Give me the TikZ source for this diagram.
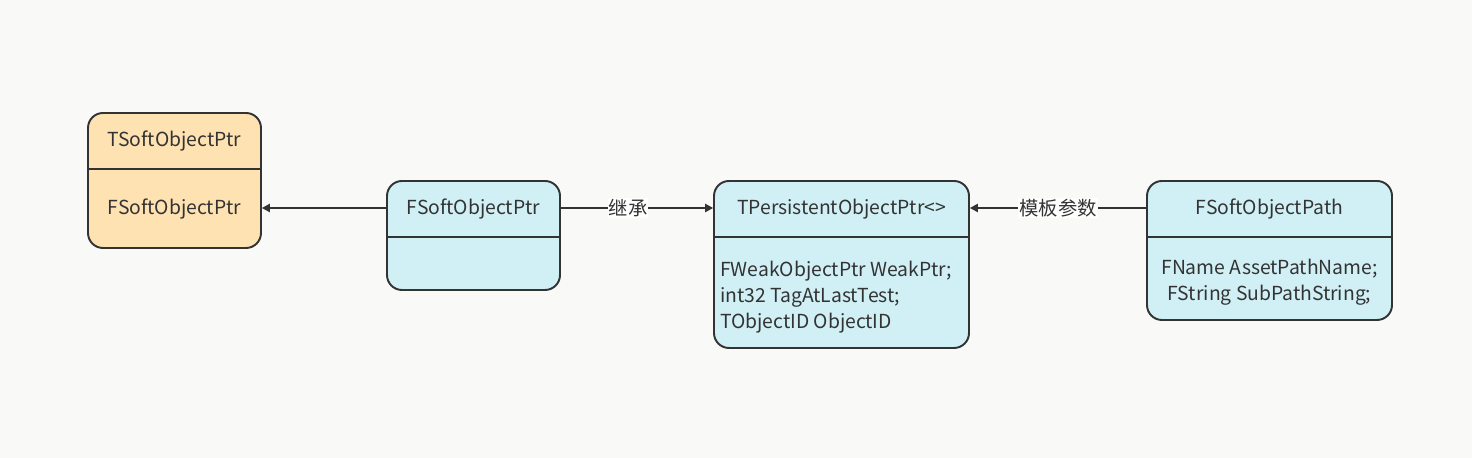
\documentclass[tikz,border=0pt]{standalone}
\usepackage{fontspec}
\setmainfont{Noto Sans CJK SC}
\usepackage{xcolor}
\usetikzlibrary{arrows.meta,positioning,calc}

\definecolor{bgcol}{HTML}{F9F9F8}
\definecolor{bluefill}{HTML}{D0F0F6}
\definecolor{orangefill}{HTML}{FFE2B1}
\definecolor{edgecol}{HTML}{333333}

\tikzset{
    classbox/.style={draw=edgecol, line width=1.1pt, rounded corners=0.3cm, inner sep=0pt},
    classtext/.style={text=edgecol, font=\fontsize{11}{14.7}\selectfont, inner sep=1pt},
    relation/.style={draw=edgecol, line width=0.6pt, -{Triangle[length=0.16cm, width=0.17cm]}},
    rellabel/.style={fill=white, text=edgecol, font=\fontsize{11}{12}\selectfont, inner sep=0.5pt}
}

\begin{document}
\begin{tikzpicture}
    \useasboundingbox[fill=bgcol] (0,0) rectangle (29.44,9.16);

    % TSoftObjectPtr (left)
    \node[classbox, fill=orangefill, minimum width=3.46cm, minimum height=2.70cm] (tsoft) at (3.49,5.55) {};
    \draw[edgecol, line width=1.1pt] (tsoft.west |- 0,5.78) -- (tsoft.east |- 0,5.78);
    \node[classtext] (tsofthead) at (3.49,6.34) {TSoftObjectPtr};
    \node[classtext] (tsoftbody) at (3.49,4.97) {FSoftObjectPtr};

    % FSoftObjectPtr
    \node[classbox, fill=bluefill, minimum width=3.46cm, minimum height=2.18cm] (fsoft) at (9.47,4.45) {};
    \draw[edgecol, line width=1.1pt] (fsoft.west |- 0,4.42) -- (fsoft.east |- 0,4.42);
    \node[classtext] (fsofthead) at (9.47,4.97) {FSoftObjectPtr};

    % TPersistentObjectPtr
    \node[classbox, fill=bluefill, minimum width=5.10cm, minimum height=3.34cm] (tpers) at (16.83,3.87) {};
    \draw[edgecol, line width=1.1pt] (tpers.west |- 0,4.42) -- (tpers.east |- 0,4.42);
    \node[classtext] (tpershead) at (16.83,4.97) {TPersistentObjectPtr<>};
    \node[classtext, anchor=west, align=left] (tpersbody) at (14.36,3.22)
        {FWeakObjectPtr WeakPtr;\\int32 TagAtLastTest;\\TObjectID ObjectID};

    % FSoftObjectPath (right)
    \node[classbox, fill=bluefill, minimum width=4.90cm, minimum height=2.78cm] (fpath) at (25.39,4.15) {};
    \draw[edgecol, line width=1.1pt] (fpath.west |- 0,4.42) -- (fpath.east |- 0,4.42);
    \node[classtext] (fpathhead) at (25.39,4.97) {FSoftObjectPath};
    \node[classtext, align=center] (fpathbody) at (25.39,3.52)
        {FName AssetPathName;\\FString SubPathString;};

    % relations
    \draw[relation] (fsoft.west |- 0,5.00) -- (tsoft.east |- 0,5.00);
    \draw[relation] (fsoft.east |- 0,5.00) -- node[rellabel, xshift=-0.18cm] (inherit) {继承} (tpers.west |- 0,5.00);
    \draw[relation] (fpath.west |- 0,5.00) -- node[rellabel] (tparam) {模板参数} (tpers.east |- 0,5.00);
\end{tikzpicture}
\end{document}
